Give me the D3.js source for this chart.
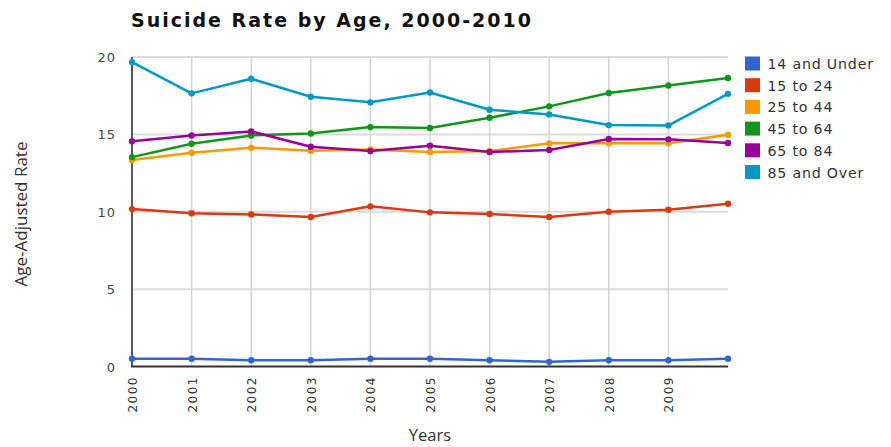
<!DOCTYPE html>
<html><head><meta charset="utf-8">
<script src="https://cdn.jsdelivr.net/npm/d3@7"></script>
<style>body{margin:0;background:#fff}svg{display:block}</style>
</head><body><svg id="c" width="891" height="447"></svg>
<script>
const years = [2000,2001,2002,2003,2004,2005,2006,2007,2008,2009,2010];
const tickYears = [2000,2001,2002,2003,2004,2005,2006,2007,2008,2009];
const yTicks = [0,5,10,15,20];
const seriesNames = ["14 and Under","15 to 24","25 to 44","45 to 64","65 to 84","85 and Over"];
const seriesColors = ["#3366cc","#dc3912","#ff9900","#109618","#990099","#0099c6"];
const under14 = [0.5,0.5,0.4,0.4,0.5,0.5,0.4,0.3,0.4,0.4,0.5];
const age15to24 = [10.17,9.9,9.83,9.66,10.35,9.96,9.85,9.66,10.0,10.13,10.52];
const age25to44 = [13.34,13.81,14.14,13.94,14.03,13.86,13.92,14.42,14.42,14.42,14.98];
const age45to64 = [13.53,14.39,14.93,15.06,15.47,15.41,16.07,16.81,17.67,18.16,18.64];
const age65to84 = [14.55,14.93,15.19,14.2,13.92,14.27,13.86,13.99,14.7,14.68,14.44];
const age85plus = [19.67,17.65,18.59,17.43,17.07,17.71,16.59,16.29,15.6,15.58,17.62];
const seriesValues = [under14,age15to24,age25to44,age45to64,age65to84,age85plus];

const svg = d3.select("#c");
const x = d3.scaleLinear().domain([2000,2010]).range([132,728]);
const y = d3.scaleLinear().domain([0,20]).range([366.5,57]);

// gridlines
svg.append("g").selectAll("line").data(yTicks.filter(d=>d>0)).join("line")
  .attr("x1",132).attr("x2",728).attr("y1",d=>y(d)).attr("y2",d=>y(d))
  .attr("stroke","#dcdcdc").attr("stroke-width",2);
svg.append("g").selectAll("line").data(tickYears.slice(1)).join("line")
  .attr("x1",d=>x(d)).attr("x2",d=>x(d)).attr("y1",57).attr("y2",366)
  .attr("stroke","#d4d4d4").attr("stroke-width",1.5);

// axes lines
svg.append("line").attr("x1",132).attr("x2",132).attr("y1",57).attr("y2",367).attr("stroke","#222").attr("stroke-width",1.5);
svg.append("line").attr("x1",131).attr("x2",728).attr("y1",366.5).attr("y2",366.5).attr("stroke","#333").attr("stroke-width",2);

// y tick labels
svg.append("g").selectAll("text").data(yTicks).join("text")
  .attr("x",116).attr("y",d=>y(d)+5).attr("text-anchor","end")
  .attr("font-family","DejaVu Sans").attr("font-size",13).attr("letter-spacing",1).attr("fill","#444")
  .text(d=>d);

// x tick labels
svg.append("g").selectAll("text").data(tickYears).join("text")
  .attr("transform",d=>`translate(${x(d)+5},376) rotate(-90)`).attr("text-anchor","end")
  .attr("font-family","DejaVu Sans").attr("font-size",12).attr("letter-spacing",1.5).attr("fill","#333")
  .text(d=>d);

// lines
const line = d3.line().x((d,i)=>x(years[i])).y(d=>y(d));
seriesValues.forEach((vals,k)=>{
  const g = svg.append("g");
  g.append("path").datum(vals).attr("d",line).attr("fill","none")
    .attr("stroke",seriesColors[k]).attr("stroke-width",2.5).attr("stroke-linejoin","round");
  g.selectAll("circle").data(vals).join("circle")
    .attr("cx",(d,i)=>x(years[i])).attr("cy",d=>y(d)).attr("r",3.2).attr("fill",seriesColors[k]);
});

// title
svg.append("text").attr("x",131).attr("y",27).attr("font-family","DejaVu Sans").attr("font-weight","bold")
  .attr("font-size",19).attr("letter-spacing",2).attr("fill","#111").text("Suicide Rate by Age, 2000-2010");

// axis titles
svg.append("text").attr("transform","translate(27,214) rotate(-90)").attr("text-anchor","middle")
  .attr("font-family","Open Sans").attr("font-size",17).attr("fill","#333").text("Age-Adjusted Rate");
svg.append("text").attr("x",430).attr("y",441).attr("text-anchor","middle")
  .attr("font-family","Open Sans").attr("font-size",16.5).attr("fill","#333").text("Years");

// legend
const lg = svg.append("g").selectAll("g").data(seriesNames).join("g")
  .attr("transform",(d,i)=>`translate(745,${56.5+i*21.7})`);
lg.append("rect").attr("width",15).attr("height",14).attr("fill",(d,i)=>seriesColors[i]);
lg.append("text").attr("x",22.5).attr("y",12.5).attr("font-family","DejaVu Sans").attr("font-size",14.2)
  .attr("letter-spacing",0.8).attr("fill","#333").text(d=>d);
</script></body></html>
